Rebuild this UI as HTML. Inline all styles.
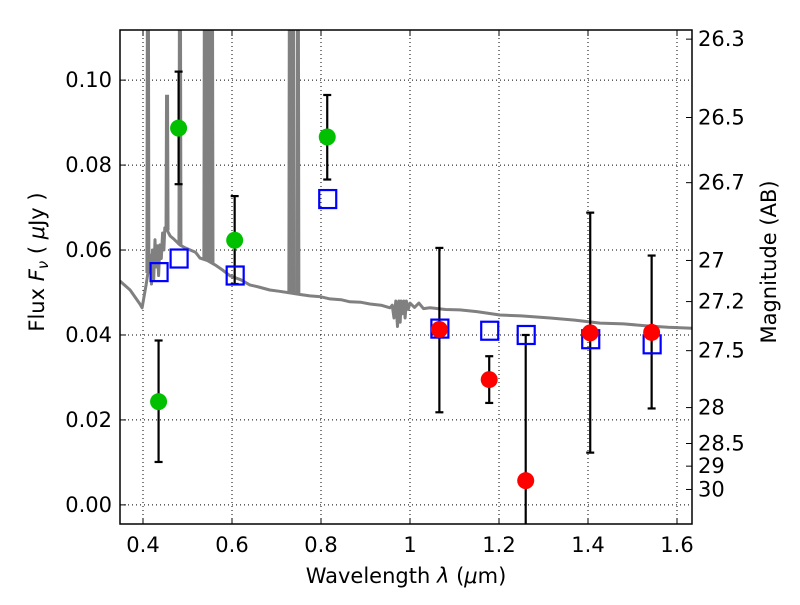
<!DOCTYPE html>
<html><head><meta charset="utf-8"><style>
body{margin:0;background:#fff;}
svg text{font-family:"DejaVu Sans","Liberation Sans",sans-serif;fill:#000;}
</style></head><body>
<svg id="chart" width="800" height="600" xmlns="http://www.w3.org/2000/svg">
<defs><clipPath id="clip"><rect x="120" y="30" width="572" height="494"/></clipPath></defs>
<rect x="0" y="0" width="800" height="600" fill="#fff"/>
<g id="grid"></g>
<g id="spec" clip-path="url(#clip)"></g>
<g id="marks" clip-path="url(#clip)"></g>
<g id="axes"></g>
<text x="406" y="583" font-size="21" text-anchor="middle">Wavelength  <tspan font-style="italic">λ</tspan> (<tspan font-style="italic">μ</tspan>m)</text>
<text transform="translate(44,262) rotate(-90)" font-size="21" text-anchor="middle">Flux  <tspan font-style="italic">F<tspan font-size="15" dy="4">ν</tspan></tspan><tspan dy="-4">  (  <tspan font-style="italic">μ</tspan>Jy )</tspan></text>
<text transform="translate(776,262) rotate(-90)" font-size="21" text-anchor="middle">Magnitude (AB)</text>
</svg>
<script>
const xTicks=[0.4,0.6,0.8,1.0,1.2,1.4,1.6];
const xTickLabels=["0.4","0.6","0.8","1","1.2","1.4","1.6"];
const yTicks=[0,0.02,0.04,0.06,0.08,0.10];
const yTickLabels=["0.00","0.02","0.04","0.06","0.08","0.10"];
const magTicks=[26.3,26.5,26.7,27,27.2,27.5,28,28.5,29,30];
const magLabels=["26.3","26.5","26.7","27","27.2","27.5","28","28.5","29","30"];
const greenWl=[0.435,0.48,0.606,0.814];
const greenFlux=[0.0243,0.0887,0.0623,0.0866];
const greenLo=[0.0101,0.0755,0.052,0.0766];
const greenHi=[0.0387,0.102,0.0727,0.0965];
const redWl=[1.066,1.178,1.26,1.405,1.543];
const redFlux=[0.0413,0.0295,0.0057,0.0405,0.0406];
const redLo=[0.0218,0.024,-0.01,0.0123,0.0227];
const redHi=[0.0605,0.035,0.040,0.0688,0.0587];
const modelWl=[0.435,0.48,0.606,0.814,1.066,1.178,1.26,1.405,1.543];
const modelFlux=[0.0548,0.058,0.054,0.072,0.0415,0.041,0.040,0.039,0.0378];
const specWl=[0.348,0.371,0.393,0.398,0.407,0.413,0.416,0.419,0.421,0.424,0.427,0.429,0.432,0.435,0.438,0.441,0.444,0.447,0.449,0.455,0.461,0.47,0.483,0.495,0.506,0.518,0.528,0.545,0.562,0.58,0.596,0.620,0.640,0.660,0.685,0.705,0.730,0.755,0.775,0.80,0.820,0.845,0.865,0.890,0.910,0.935,0.955,0.960,0.964,0.968,0.972,0.975,0.978,0.980,0.983,0.986,0.989,0.992,0.996,1.0,1.01,1.02,1.03,1.045,1.08,1.112,1.15,1.202,1.25,1.315,1.37,1.427,1.48,1.539,1.58,1.634];
const specFlux=[0.0527,0.0506,0.0473,0.0464,0.0518,0.0560,0.0588,0.052,0.060,0.053,0.0624,0.056,0.061,0.054,0.0612,0.058,0.064,0.060,0.0652,0.0645,0.0633,0.0625,0.0612,0.0605,0.060,0.0595,0.0581,0.0575,0.0565,0.0552,0.0539,0.0530,0.0518,0.0513,0.0506,0.0503,0.0499,0.0495,0.0492,0.0490,0.0485,0.0483,0.0478,0.0477,0.0473,0.0470,0.0464,0.047,0.044,0.048,0.042,0.048,0.043,0.048,0.045,0.048,0.044,0.048,0.046,0.0475,0.0465,0.0475,0.0462,0.0464,0.046,0.0459,0.0455,0.0447,0.0445,0.044,0.0435,0.0428,0.0426,0.0421,0.0418,0.0416];
const lineWl=[0.411,0.454,0.483,0.539,0.546,0.555,0.730,0.737,0.748];
const lineTop=[0.12,0.0962,0.12,0.12,0.12,0.12,0.12,0.12,0.12];

const L=120,R=692,T=30,B=524,X0=0.3483,X1=1.6337,Y0=-0.0045,Y1=0.1118;
const sx=v=>L+(v-X0)/(X1-X0)*(R-L);
const sy=v=>B-(v-Y0)/(Y1-Y0)*(B-T);
const NS="http://www.w3.org/2000/svg";
function mk(tag,attrs,parent){const e=document.createElementNS(NS,tag);for(const k in attrs)e.setAttribute(k,attrs[k]);parent.appendChild(e);return e;}
const grid=document.getElementById('grid'),axes=document.getElementById('axes'),spec=document.getElementById('spec'),marks=document.getElementById('marks');
xTicks.forEach((v,i)=>{
  const g=mk('line',{x1:sx(v),x2:sx(v),y1:T,y2:B,stroke:'#000','stroke-width':1,'stroke-dasharray':'1,3'},grid);
  
  
  mk('line',{x1:sx(v),x2:sx(v),y1:B,y2:B-6,stroke:'#000'},axes);
  mk('line',{x1:sx(v),x2:sx(v),y1:T,y2:T+6,stroke:'#000'},axes);
  const t=mk('text',{x:sx(v),y:B+28,'font-size':21,'text-anchor':'middle'},axes);t.textContent=xTickLabels[i];
  
  
});
yTicks.forEach((v,i)=>{
  const g=mk('line',{x1:L,x2:R,y1:sy(v),y2:sy(v),stroke:'#000','stroke-width':1,'stroke-dasharray':'1,3'},grid);
  
  
  mk('line',{x1:L,x2:L+6,y1:sy(v),y2:sy(v),stroke:'#000'},axes);
  const t=mk('text',{x:L-8,y:sy(v)+7,'font-size':21,'text-anchor':'end'},axes);t.textContent=yTickLabels[i];
  
  
});
magTicks.forEach((m,i)=>{
  const f=Math.pow(10,(23.9-m)/2.5);const y=sy(f);
  mk('line',{x1:R,x2:R-6,y1:y,y2:y,stroke:'#000'},axes);
  const t=mk('text',{x:R+6,y:y+7,'font-size':21},axes);t.textContent=magLabels[i];
  
  
});
mk('rect',{x:L,y:T,width:R-L,height:B-T,fill:'none',stroke:'#000','stroke-width':1.5},axes);
const cont=w=>{for(let i=1;i<specWl.length;i++){if(w<=specWl[i]){const a=(w-specWl[i-1])/(specWl[i]-specWl[i-1]);return specFlux[i-1]+a*(specFlux[i]-specFlux[i-1]);}}return specFlux[specFlux.length-1];};
let d=specWl.map((w,i)=>(i?'L':'M')+sx(w).toFixed(1)+','+sy(specFlux[i]).toFixed(1)).join(' ');
const p=mk('path',{d:d,fill:'none',stroke:'#808080','stroke-width':3,'stroke-linejoin':'round'},spec);


lineWl.forEach((w,i)=>{
  const l=mk('path',{d:`M${sx(w)-1},${sy(cont(w))} L${sx(w)-0.5},${sy(lineTop[i])} L${sx(w)+0.5},${sy(lineTop[i])} L${sx(w)+1},${sy(cont(w))}`,fill:'none',stroke:'#808080','stroke-width':3},spec);
  
  
});
function errbar(w,lo,hi){
  const x=sx(w);
  mk('line',{x1:x,x2:x,y1:sy(lo),y2:sy(hi),stroke:'#000','stroke-width':2.2},marks);
  mk('line',{x1:x-4,x2:x+4,y1:sy(lo),y2:sy(lo),stroke:'#000','stroke-width':2.2},marks);
  mk('line',{x1:x-4,x2:x+4,y1:sy(hi),y2:sy(hi),stroke:'#000','stroke-width':2.2},marks);
}
greenWl.forEach((w,i)=>errbar(w,greenLo[i],greenHi[i]));
redWl.forEach((w,i)=>errbar(w,redLo[i],redHi[i]));
modelWl.forEach((w,i)=>{
  const r=mk('rect',{x:sx(w)-8,y:sy(modelFlux[i])-9,width:17,height:18,fill:'none',stroke:'#0000ff','stroke-width':2.2},marks);
  
  
});
greenWl.forEach((w,i)=>{
  const c=mk('circle',{cx:sx(w),cy:sy(greenFlux[i]),r:8.5,fill:'#00c000'},marks);
  
  
});
redWl.forEach((w,i)=>{
  const c=mk('circle',{cx:sx(w),cy:sy(redFlux[i]),r:8.5,fill:'#ff0000'},marks);
  
  
});
</script>
</body></html>
